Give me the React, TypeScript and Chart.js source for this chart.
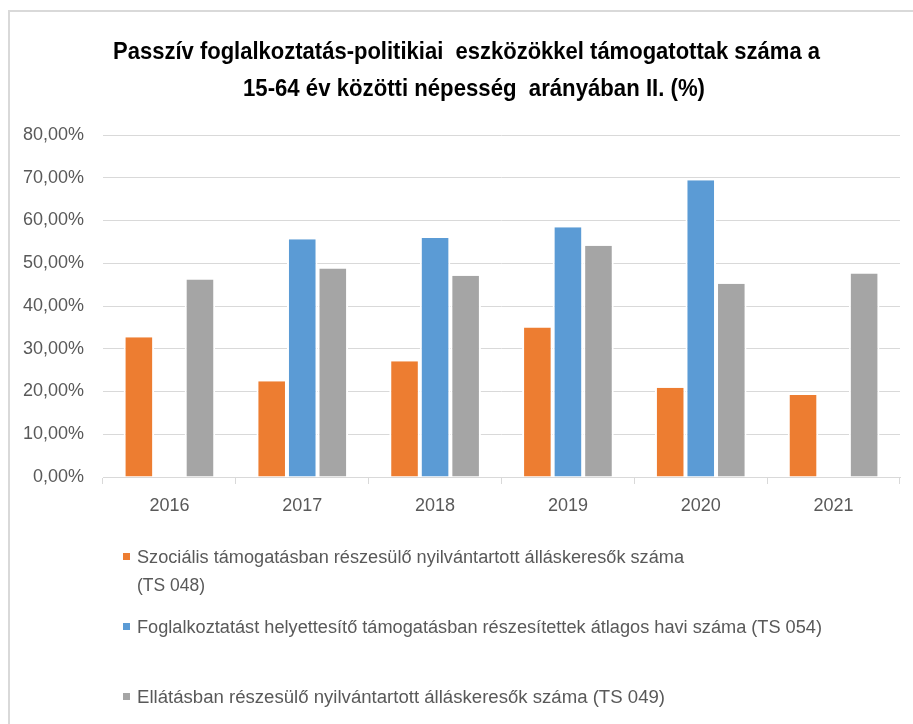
import React, { useEffect, useRef } from "react";
import { Chart, registerables } from "chart.js";

Chart.register(...registerables);

const categories = ["2016", "2017", "2018", "2019", "2020", "2021"];
const seriesSzocialis = [32.7, 22.4, 27.1, 35.0, 20.9, 19.2];
const seriesFoglalkoztatast = [null, 55.6, 55.9, 58.4, 69.4, null];
const seriesEllatas = [46.2, 48.8, 47.1, 54.1, 45.2, 47.6];
const yMin = 0;
const yMax = 80;
const yStep = 10;

const titleLines = [
  "Passzív foglalkoztatás-politikiai  eszközökkel támogatottak száma a",
  "15-64 év közötti népesség  arányában II. (%)",
];
const legendLines = [
  ["Szociális támogatásban részesülő nyilvántartott álláskeresők száma", "(TS 048)"],
  ["Foglalkoztatást helyettesítő támogatásban részesítettek átlagos havi száma (TS 054)"],
  ["Ellátásban részesülő nyilvántartott álláskeresők száma (TS 049)"],
];
const seriesColors = ["#ED7D31", "#5B9BD5", "#A5A5A5"];

const AXIS_FONT = "Liberation Sans";
const TEXT_GRAY = "#595959";

let measureCtx: CanvasRenderingContext2D | null = null;
function measure(text: string, font: string): number {
  if (!measureCtx) {
    const c = document.createElement("canvas");
    measureCtx = c.getContext("2d");
  }
  if (!measureCtx) return 1;
  measureCtx.font = font;
  return measureCtx.measureText(text).width || 1;
}

function FitText(props: {
  text: string;
  left: number;
  centerY: number;
  width: number;
  size: number;
  weight?: string;
  color: string;
  family: string;
}) {
  const { text, left, centerY, width, size, weight = "normal", color, family } = props;
  const font = `${weight} ${size}px "${family}"`;
  const w = measure(text, font);
  const k = width / w;
  return (
    <div
      style={{
        position: "absolute",
        left,
        top: centerY - size * 0.488,
        font,
        lineHeight: 1,
        whiteSpace: "pre",
        color,
        transform: `scaleX(${k})`,
        transformOrigin: "left top",
      }}
    >
      {text}
    </div>
  );
}

export default function App() {
  const canvasRef = useRef<HTMLCanvasElement | null>(null);

  useEffect(() => {
    const canvas = canvasRef.current;
    if (!canvas) return;
    const chart = new Chart(canvas, {
      type: "bar",
      data: {
        labels: categories,
        datasets: [
          {
            label: legendLines[0].join(" "),
            data: seriesSzocialis,
            backgroundColor: seriesColors[0],
            borderColor: "#ffffff",
            borderWidth: { top: 0, bottom: 0, left: 2, right: 2 },
          },
          {
            label: legendLines[1].join(" "),
            data: seriesFoglalkoztatast,
            backgroundColor: seriesColors[1],
            borderColor: "#ffffff",
            borderWidth: { top: 0, bottom: 0, left: 2, right: 2 },
          },
          {
            label: legendLines[2].join(" "),
            data: seriesEllatas,
            backgroundColor: seriesColors[2],
            borderColor: "#ffffff",
            borderWidth: { top: 0, bottom: 0, left: 2, right: 2 },
          },
        ],
      },
      options: {
        responsive: false,
        animation: false,
        layout: { padding: { top: 135, left: 0, right: 13, bottom: 202 } },
        datasets: {
          bar: { categoryPercentage: 0.69, barPercentage: 1.0 },
        },
        plugins: {
          legend: { display: false },
          title: { display: false },
          tooltip: { enabled: false },
        },
        scales: {
          x: {
            afterFit: (s: any) => {
              s.height = 45;
            },
            grid: {
              display: true,
              drawOnChartArea: false,
              drawTicks: true,
              tickLength: 7,
              color: "#d9d9d9",
              offset: true,
            },
            border: { display: true, color: "#d9d9d9", width: 1 },
            ticks: {
              color: TEXT_GRAY,
              font: { family: AXIS_FONT, size: 18 },
              padding: 11,
            },
          },
          y: {
            min: yMin,
            max: yMax,
            afterFit: (s: any) => {
              s.width = 103;
            },
            grid: { color: "#d9d9d9", lineWidth: 1, drawTicks: false },
            border: { display: false },
            ticks: {
              stepSize: yStep,
              color: TEXT_GRAY,
              font: { family: AXIS_FONT, size: 18 },
              padding: 19,
              callback: (v: any) => Number(v).toFixed(2).replace(".", ",") + "%",
            },
          },
        },
      },
    });
    return () => chart.destroy();
  }, []);

  const legendRows = [
    { marker: 556.5, lines: [556.5, 585], widths: [547, 68] },
    { marker: 626.5, lines: [627], widths: [685] },
    { marker: 696.5, lines: [697], widths: [528] },
  ];

  return (
    <div
      style={{
        position: "fixed",
        left: 0,
        top: 0,
        width: 913,
        height: 724,
        background: "#ffffff",
        overflow: "hidden",
      }}
    >
      <div
        style={{
          position: "absolute",
          left: 8,
          top: 10,
          width: 920,
          height: 730,
          borderTop: "2px solid #d9d9d9",
          borderLeft: "2px solid #d9d9d9",
        }}
      />
      <canvas
        ref={canvasRef}
        width={913}
        height={724}
        style={{ position: "absolute", left: 0, top: 0, width: 913, height: 724 }}
      />
      <FitText text={titleLines[0]} left={113} centerY={51} width={707} size={24} weight="bold" color="#000000" family="Liberation Sans" />
      <FitText text={titleLines[1]} left={243} centerY={87.5} width={462} size={24} weight="bold" color="#000000" family="Liberation Sans" />
      {legendRows.map((row, i) => (
        <React.Fragment key={i}>
          <div
            style={{
              position: "absolute",
              left: 123,
              top: row.marker - 3.5,
              width: 7,
              height: 7,
              background: seriesColors[i],
            }}
          />
          {row.lines.map((cy, j) => (
            <FitText
              key={j}
              text={legendLines[i][j]}
              left={136.7}
              centerY={cy}
              width={row.widths[j]}
              size={18}
              color={TEXT_GRAY}
              family="Liberation Sans"
            />
          ))}
        </React.Fragment>
      ))}
    </div>
  );
}
